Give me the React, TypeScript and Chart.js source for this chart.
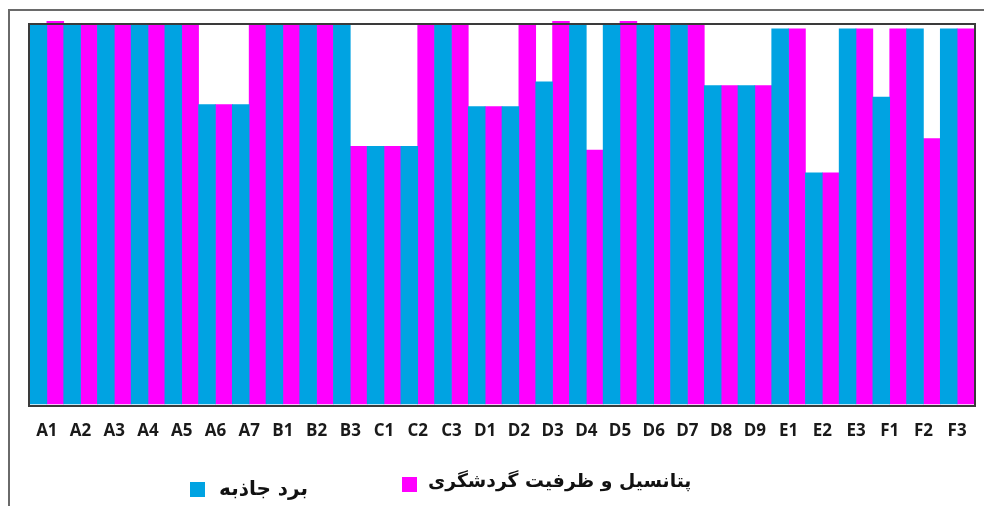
import React, { useEffect, useRef } from "react";
import { Chart, registerables } from "chart.js";

Chart.register(...registerables);

const categories = ["A1","A2","A3","A4","A5","A6","A7","B1","B2","B3","C1","C2","C3","D1","D2","D3","D4","D5","D6","D7","D8","D9","E1","E2","E3","F1","F2","F3"];
const seriesBlueName = "برد جاذبه";
const seriesMagentaName = "پتانسیل و ظرفیت گردشگری";
const blueValues = [100,100,100,100,100,79,79,100,100,100,68,68,100,78.5,78.5,85,100,100,100,100,84,84,99,61,99,81,99,99];
const magentaValues = [101,100,100,100,100,79,100,100,100,68,68,100,100,78.5,100,101,67,101,100,100,84,84,99,61,99,99,70,99];
const yMin = 0;
const yMax = 100;

const BLUE = "#00A3E2";
const MAGENTA = "#FF00FF";

const framePlugin = {
  id: "frames",
  afterDatasetsDraw(chart: any) {
    const { ctx, chartArea } = chart;
    ctx.save();
    ctx.strokeStyle = "#3a3a3a";
    ctx.lineWidth = 2;
    ctx.strokeRect(chartArea.left - 1, chartArea.top - 1, chartArea.right - chartArea.left + 2, chartArea.bottom - chartArea.top + 3);
    ctx.restore();
  },
  beforeDraw(chart: any) {
    const { ctx, width, height } = chart;
    ctx.save();
    ctx.fillStyle = "#ffffff";
    ctx.fillRect(0, 0, width, height);
    ctx.strokeStyle = "#6a6a6a";
    ctx.lineWidth = 2;
    ctx.beginPath();
    ctx.moveTo(9, height + 5);
    ctx.lineTo(9, 10);
    ctx.lineTo(width + 5, 10);
    ctx.stroke();
    ctx.restore();
  },
};

export default function App() {
  const ref = useRef<HTMLCanvasElement | null>(null);
  useEffect(() => {
    if (!ref.current) return;
    const chart = new Chart(ref.current, {
      type: "bar",
      data: {
        labels: categories,
        datasets: [
          { label: seriesBlueName, data: blueValues, backgroundColor: BLUE, borderWidth: 0, categoryPercentage: 1, barPercentage: 1, clip: false as any },
          { label: seriesMagentaName, data: magentaValues, backgroundColor: MAGENTA, borderWidth: 0, categoryPercentage: 1, barPercentage: 1, clip: false as any },
        ],
      },
      options: {
        animation: false,
        responsive: false,
        maintainAspectRatio: false,
        layout: { padding: { left: 30, right: 10, top: 25, bottom: 40 } },
        plugins: { legend: { display: false }, tooltip: { enabled: false } },
        scales: {
          x: {
            grid: { display: false, drawTicks: false },
            border: { display: false },
            ticks: {
              color: "#1a1a1a",
              font: { family: "'Open Sans', 'Liberation Sans', sans-serif", weight: "bold", size: 17 },
              padding: 17,
              maxRotation: 0,
              autoSkip: false,
            },
            afterFit: (s: any) => { s.height = 62; },
          },
          y: { display: false, min: yMin, max: yMax },
        },
      },
      plugins: [framePlugin],
    });
    return () => chart.destroy();
  }, []);

  const legendText: React.CSSProperties = {
    fontFamily: "'DejaVu Sans', sans-serif",
    fontWeight: "bold",
    fontSize: 20,
    lineHeight: "24px",
    color: "#111",
    whiteSpace: "nowrap",
    position: "absolute",
  };

  return (
    <div style={{ position: "fixed", left: 0, top: 0, width: 984, height: 506, background: "#fff", overflow: "hidden" }}>
      <canvas ref={ref} width={984} height={506} style={{ display: "block", width: 984, height: 506 }} />
      <div style={{ position: "absolute", left: 190, top: 482, width: 15, height: 15, background: BLUE }} />
      <div dir="rtl" style={{ ...legendText, left: 219, top: 476 }}>{seriesBlueName}</div>
      <div style={{ position: "absolute", left: 402, top: 477, width: 15, height: 15, background: MAGENTA }} />
      <div dir="rtl" style={{ ...legendText, fontSize: 18.8, left: 428, top: 469 }}>{seriesMagentaName}</div>
    </div>
  );
}
